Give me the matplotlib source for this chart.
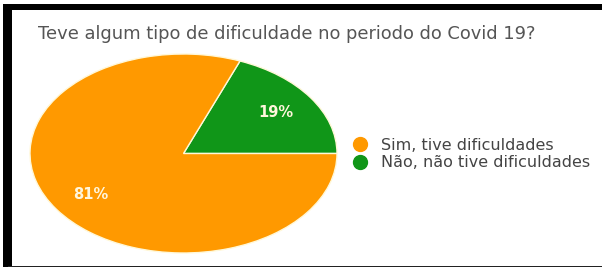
import matplotlib.pyplot as plt
from matplotlib.lines import Line2D
from matplotlib.patches import Rectangle

title = 'Teve algum tipo de dificuldade no periodo do Covid 19?'
labels = ['Não, não tive dificuldades', 'Sim, tive dificuldades']
values = [19, 81]
colors = ['#109618', '#ff9900']

fig = plt.figure(figsize=(6.02, 2.67), dpi=100)
W, H = 602, 267

# pie drawn as an ellipse (the original screenshot is stretched sideways)
ax = fig.add_axes([30 / W, (H - 253) / H, 307 / W, 199 / H])
wedges, texts, autotexts = ax.pie(
    values, colors=colors, startangle=0, counterclock=True,
    autopct='%.0f%%', pctdistance=0.73,
    wedgeprops=dict(edgecolor='#fff8d8', linewidth=1.0),
    textprops=dict(color='#fff6dc', fontsize=10.5, fontweight='bold'))
ax.set_aspect('auto')
ax.set_xlim(-1, 1)
ax.set_ylim(-1, 1)

fig.text(38 / W, 1 - 34 / H, title, fontsize=12.9, color='#555555',
         va='center', ha='left')

# legend: orange first, like the original
handles = [Line2D([], [], marker='o', linestyle='none', markersize=10,
                  markerfacecolor=colors[i], markeredgecolor=colors[i])
           for i in (1, 0)]
fig.legend(handles, [labels[1], labels[0]], loc='center left',
           bbox_to_anchor=(352 / W, 1 - 154 / H), frameon=False,
           fontsize=11.5, labelcolor='#444444', handletextpad=0.8,
           labelspacing=0.15, borderaxespad=0, borderpad=0, handlelength=1.0)

# black frame around the screenshot
fig.add_artist(Rectangle((3 / W, 0), 9 / W, 263 / H, transform=fig.transFigure,
                         color='black', lw=0))
fig.add_artist(Rectangle((3 / W, 1 - 10 / H), 599 / W, 6 / H,
                         transform=fig.transFigure, color='black', lw=0))
fig.add_artist(Rectangle((8 / W, 0), 594 / W, 1.5 / H,
                         transform=fig.transFigure, color='#222222', lw=0))

fig.savefig('out.png', dpi=100)
